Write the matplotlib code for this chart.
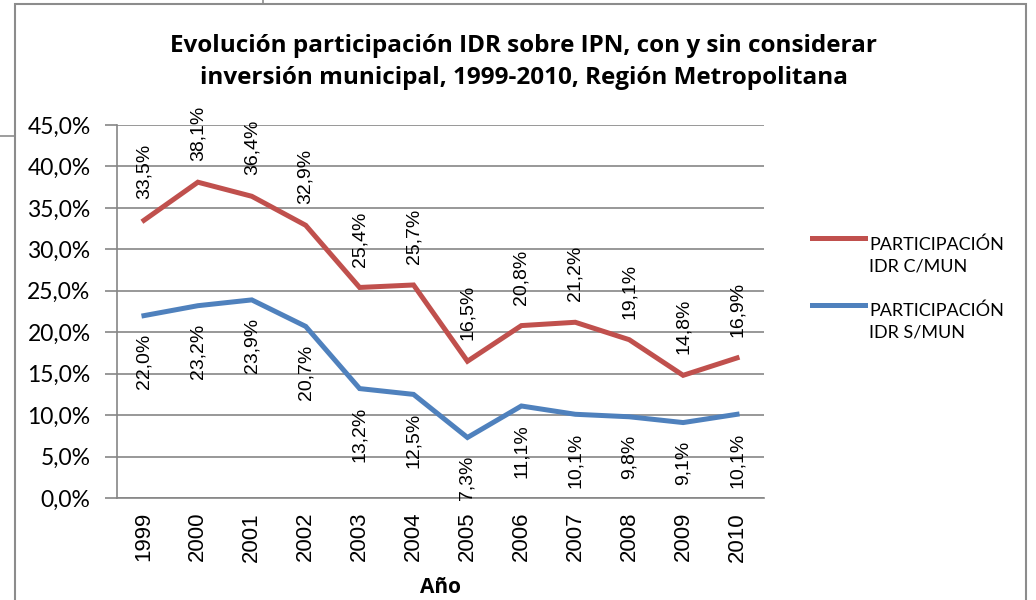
import matplotlib

matplotlib.use("Agg")
import matplotlib.pyplot as plt
from matplotlib.legend_handler import HandlerLine2D
from matplotlib.lines import Line2D
from matplotlib.patches import Rectangle

years = ["1999", "2000", "2001", "2002", "2003", "2004",
         "2005", "2006", "2007", "2008", "2009", "2010"]
con_mun = [33.5, 38.1, 36.4, 32.9, 25.4, 25.7, 16.5, 20.8, 21.2, 19.1, 14.8, 16.9]
sin_mun = [22.0, 23.2, 23.9, 20.7, 13.2, 12.5, 7.3, 11.1, 10.1, 9.8, 9.1, 10.1]
y_ticks = [0, 5, 10, 15, 20, 25, 30, 35, 40, 45]

RED = "#C0504D"
BLUE = "#4F81BD"
GRID = "#868686"
SANS = ["Lato", "DejaVu Sans"]
BOLD = ["Open Sans", "DejaVu Sans"]
ARIAL = ["Liberation Sans", "DejaVu Sans"]


def pct(v):
    return f"{v:.1f}".replace(".", ",") + "%"


class HandlerTopLine(HandlerLine2D):
    # put the legend line level with the first text line, as Excel does
    def create_artists(self, legend, orig_handle, xdescent, ydescent,
                       width, height, fontsize, trans):
        artists = super().create_artists(legend, orig_handle, xdescent, ydescent,
                                         width, height, fontsize, trans)
        for a in artists:
            a.set_ydata([y + fontsize * 0.95 for y in a.get_ydata()])
        return artists


fig = plt.figure(figsize=(10.36, 6.0), dpi=100)

# outer chart frame (cropped screenshot)
fig.add_artist(Rectangle((15 / 1036, -0.1), 1011 / 1036, 1.1 - 4 / 600,
                         transform=fig.transFigure, fill=False,
                         edgecolor="#8c8c8c", linewidth=1.5))
fig.add_artist(Line2D([263 / 1036, 263 / 1036], [1.0, 1 - 4 / 600],
                      transform=fig.transFigure, color="#8c8c8c", linewidth=1.2))
fig.add_artist(Line2D([0, 15 / 1036], [1 - 136 / 600, 1 - 136 / 600],
                      transform=fig.transFigure, color="#8c8c8c", linewidth=1.2))

ax = fig.add_axes([117 / 1036, 1 - 498 / 600, 647 / 1036, 373 / 600])
x = list(range(len(years)))

ax.plot(x, con_mun, color=RED, linewidth=3.6, solid_joinstyle="miter",
        label="PARTICIPACIÓN\nIDR C/MUN", zorder=3)
ax.plot(x, sin_mun, color=BLUE, linewidth=3.6, solid_joinstyle="miter",
        label="PARTICIPACIÓN\nIDR S/MUN", zorder=3)

for xi, v in zip(x, con_mun):
    ax.annotate(pct(v), (xi, v), xytext=(0, 15), textcoords="offset points",
                rotation=90, ha="center", va="bottom", fontsize=14,
                family=ARIAL, zorder=4)
for xi, v in zip(x, sin_mun):
    ax.annotate(pct(v), (xi, v), xytext=(0, -13), textcoords="offset points",
                rotation=90, ha="center", va="top", fontsize=14,
                family=ARIAL, zorder=4)

ax.set_xlim(-0.5, len(years) - 0.5)
ax.set_ylim(0, 45)
ax.set_yticks(y_ticks)
ax.set_yticklabels([pct(t) for t in y_ticks], fontsize=16.5, family=SANS)
ax.set_xticks(x)
ax.set_xticklabels(years, rotation=90, fontsize=16, family=ARIAL)
ax.tick_params(axis="x", length=0, pad=10)
ax.tick_params(axis="y", length=9, color=GRID, width=1.2, pad=10)
ax.yaxis.grid(True, color=GRID, linewidth=1.2)
ax.set_axisbelow(True)
for side in ("top", "right"):
    ax.spines[side].set_visible(False)
for side in ("left", "bottom"):
    ax.spines[side].set_color(GRID)
    ax.spines[side].set_linewidth(1.2)

ax.set_xlabel("Año", fontsize=15, fontweight="bold", family=BOLD, labelpad=11)

fig.text(524 / 1036, 1 - 62 / 600,
         "Evolución participación IDR sobre IPN, con y sin considerar\n"
         "inversión municipal, 1999-2010, Región Metropolitana",
         ha="center", va="center", fontsize=17.5, fontweight="bold",
         family=BOLD, linespacing=1.45)

leg = fig.legend(loc="upper left", bbox_to_anchor=(805 / 1036, 1 - 229 / 600),
                 frameon=False, prop={"family": SANS, "size": 13},
                 handlelength=2.95, handletextpad=0.2, labelspacing=1.55,
                 borderaxespad=0,
                 handler_map={Line2D: HandlerTopLine()})
for t in leg.get_texts():
    t.set_linespacing(1.45)

fig.savefig("out.png", dpi=100)
